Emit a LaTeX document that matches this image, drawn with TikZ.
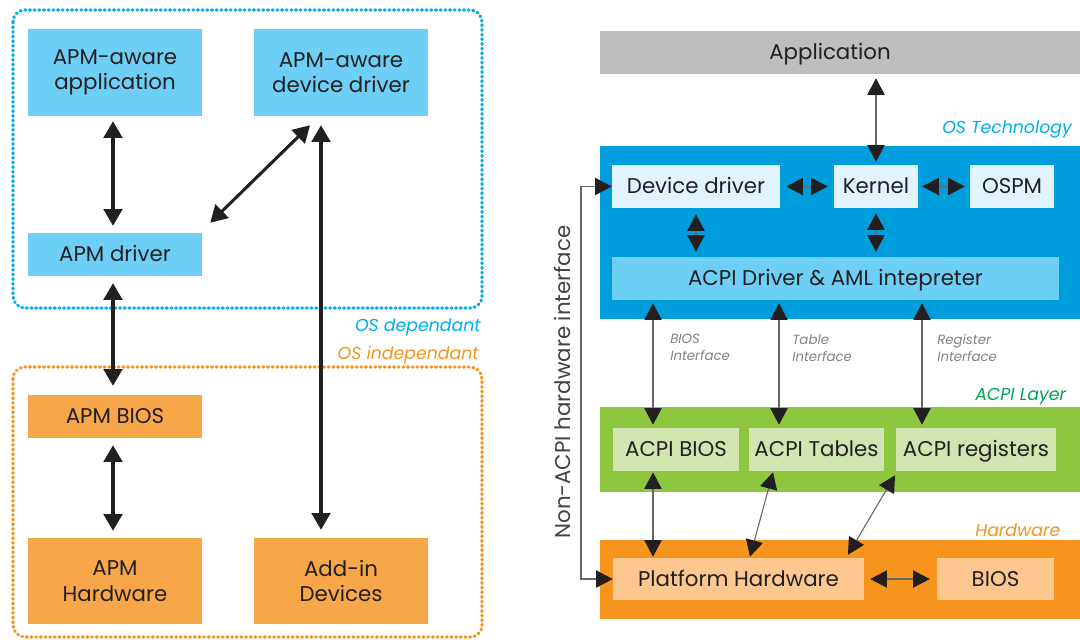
\documentclass[tikz,border=0pt]{standalone}
\usepackage{fontspec}
\setmainfont{Poppins}
\usetikzlibrary{arrows.meta,calc}

\definecolor{ink}{HTML}{231F20}
\definecolor{apmblue}{HTML}{6DCFF6}
\definecolor{osblue}{HTML}{00AEEF}
\definecolor{apmorange}{HTML}{F8A64A}
\definecolor{hworange}{HTML}{F7941D}
\definecolor{bandblue}{HTML}{009DDC}
\definecolor{paleblue}{HTML}{E1F4FD}
\definecolor{bandgreen}{HTML}{8DC63F}
\definecolor{palegreen}{HTML}{D2E5B0}
\definecolor{paleorange}{HTML}{FDC790}
\definecolor{appgray}{HTML}{BCBEC0}
\definecolor{acpigreen}{HTML}{00A651}
\definecolor{notegray}{HTML}{808285}

\tikzset{
  boxtext/.style={text=ink, align=center, inner sep=0pt, font=\fontsize{16}{19}\selectfont},
  oneline/.style={text height=11.2pt, text depth=0pt},
  apmbox/.style={boxtext, fill=apmblue},
  orbox/.style={boxtext, fill=apmorange},
  palebox/.style={boxtext, oneline, fill=paleblue},
  drvbox/.style={boxtext, oneline, fill=apmblue},
  greenbox/.style={boxtext, oneline, fill=palegreen},
  peachbox/.style={boxtext, oneline, fill=paleorange},
  dotbox/.style={line width=2.3pt, dash pattern=on 0.8pt off 2.7pt, line cap=round, rounded corners=9pt},
  region/.style={inner sep=0pt, font=\fontsize{13}{15}\selectfont\itshape},
  note/.style={inner sep=0pt, align=left, text=notegray, font=\fontsize{10}{12.75}\selectfont\itshape},
  heavy/.style={{Triangle[length=12.5pt,width=14pt]}-{Triangle[length=12.5pt,width=14pt]}, line width=2.3pt, draw=ink},
  slim/.style={{Triangle[length=12.5pt,width=13pt,color=ink]}-{Triangle[length=12.5pt,width=13pt,color=ink]}, line width=0.8pt, draw=black!60},
}

\begin{document}
\begin{tikzpicture}[x=0.75pt,y=-0.75pt]
\clip (0,0) rectangle (1080,639);
\fill[white] (0,0) rectangle (1080,639);

% ---------------- APM ----------------
\draw[osblue, dotbox] (13,10) rectangle (482,308);
\draw[hworange, dotbox] (13,367) rectangle (482,637);

\node[apmbox, minimum width=130.5pt, minimum height=65.25pt] (app) at (115,72.5) {APM-aware\\application};
\node[apmbox, minimum width=130.5pt, minimum height=65.25pt] (apmdev) at (341,72.5) {APM-aware\\device driver};
\node[apmbox, oneline, minimum width=130.5pt, minimum height=32.25pt] (apmdrv) at (115,254.5) {APM driver};
\node[orbox, oneline, minimum width=130.5pt, minimum height=32.25pt] (apmbios) at (115,416.5) {APM BIOS};
\node[orbox, minimum width=130.5pt, minimum height=64.5pt] (apmhw) at (115,581) {APM\\Hardware};
\node[orbox, minimum width=130.5pt, minimum height=64.5pt] (addin) at (341,581) {Add-in\\Devices};

\draw[heavy] ([shift={(-2,5)}]app.south) -- ([shift={(-2,-7)}]apmdrv.north);
\draw[heavy] ([shift={(8,-10)}]apmdrv.north east) -- ([shift={(-31,9)}]apmdev.south);
\draw[heavy] ([shift={(-20,9)}]apmdev.south) -- ([shift={(-20,-8)}]addin.north);
\draw[heavy] ([shift={(-2,7)}]apmdrv.south) -- ([shift={(-2,-9)}]apmbios.north);
\draw[heavy] ([shift={(-2,7)}]apmbios.south) -- ([shift={(-2,-7)}]apmhw.north);

\node[region, anchor=east, text=osblue] (osdep) at (481,327) {OS dependant};
\node[region, anchor=east, text=hworange] (osind) at (479,355) {OS independant};

% ---------------- ACPI ----------------
\fill[appgray] (600,31) rectangle (1090,74);
\fill[bandblue] (600,146) rectangle (1090,319);
\fill[bandgreen] (600,407) rectangle (1090,492);
\fill[hworange] (600,540) rectangle (1090,619);

\node[boxtext, oneline, minimum width=225pt, minimum height=32.25pt] (appl) at (830,52.5) {Application};

\node[palebox, minimum width=126pt, minimum height=32.25pt] (devdrv) at (696,186.5) {Device driver};
\node[palebox, minimum width=63pt, minimum height=32.25pt] (kernel) at (876,186.5) {Kernel};
\node[palebox, minimum width=63pt, minimum height=32.25pt] (ospm) at (1012,186.5) {OSPM};
\node[drvbox, minimum width=335.25pt, minimum height=32.25pt] (acpidrv) at (835.5,278.5) {ACPI Driver \& AML intepreter};

\node[greenbox, minimum width=94.5pt, minimum height=32.25pt] (acpibios) at (676,449.5) {ACPI BIOS};
\node[greenbox, minimum width=101.25pt, minimum height=32.25pt] (acpitab) at (816.5,449.5) {ACPI Tables};
\node[greenbox, minimum width=120pt, minimum height=32.25pt] (acpireg) at (976,449.5) {ACPI registers};

\node[peachbox, minimum width=188.25pt, minimum height=31.5pt] (plat) at (738.5,579) {Platform Hardware};
\node[peachbox, minimum width=87.75pt, minimum height=31.5pt] (bios) at (995.5,579) {BIOS};

\node[region, anchor=west, text=osblue] (ostech) at (942,129) {OS Technology};
\node[region, anchor=west, text=acpigreen] (acpilayer) at (975,397) {ACPI Layer};
\node[region, anchor=west, text=hworange] (hwlabel) at (975,530) {Hardware};

\draw[slim, shorten <=2.25pt, shorten >=3pt] (kernel.north) -- (kernel.north |- appl.south);
\draw[slim, shorten <=4.5pt, shorten >=4.5pt] (devdrv.east) -- (kernel.west);
\draw[slim, shorten <=3pt, shorten >=3.75pt] (kernel.east) -- (ospm.west);
\draw[slim, shorten <=4.5pt, shorten >=3.75pt] (devdrv.south) -- (devdrv.south |- acpidrv.north);
\draw[slim, shorten <=3.75pt, shorten >=3.75pt] (kernel.south) -- (kernel.south |- acpidrv.north);

\coordinate (biosif) at ($(acpibios.north)+(-23,0)$);
\coordinate (tabif) at ($(acpitab.north)+(-37.5,0)$);
\coordinate (regif) at ($(acpireg.north)+(-54,0)$);
\draw[slim, shorten <=2.25pt, shorten >=2.25pt] (biosif |- acpidrv.south) -- (biosif);
\draw[slim, shorten <=2.25pt, shorten >=2.25pt] (tabif |- acpidrv.south) -- (tabif);
\draw[slim, shorten <=2.25pt, shorten >=2.25pt] (regif |- acpidrv.south) -- (regif);

\node[note, anchor=north west] (biosnote) at (670,334) {BIOS\\Interface};
\node[note, anchor=north west] (tabnote) at (792,334) {Table\\Interface};
\node[note, anchor=north west] (regnote) at (937,334) {Register\\Interface};

\draw[slim, shorten <=0.75pt, shorten >=0.75pt] (biosif |- acpibios.south) -- (biosif |- plat.north);
\draw[slim] ([shift={(-43.5,1)}]acpitab.south) -- ([shift={(11.5,-1)}]plat.north);
\draw[slim] ([shift={(-81,4)}]acpireg.south) -- ([shift={(109.5,-3)}]plat.north);
\draw[slim, shorten <=4.5pt, shorten >=5.25pt] (plat.east) -- (bios.west);

% Non-ACPI hardware path
\coordinate (nabus) at (581,383);
\draw[slim] (devdrv.west) -| (nabus) |- (plat.west);
\node[rotate=90, inner sep=0pt, text=ink!85, font=\fontsize{16}{19}\selectfont] (nalabel) at (562,382) {Non-ACPI hardware interface};
\end{tikzpicture}
\end{document}
